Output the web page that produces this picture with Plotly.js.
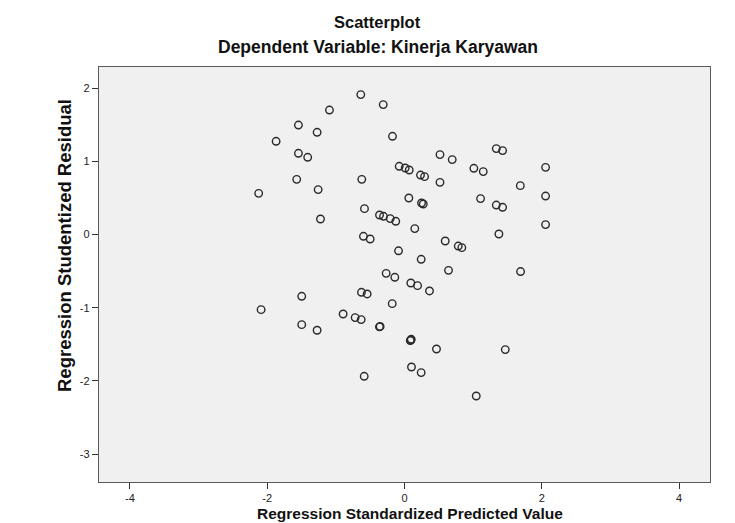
<!DOCTYPE html>
<html>
<head>
<meta charset="utf-8">
<script src="https://cdn.plot.ly/plotly-3.0.1.min.js"></script>
<style>html,body{margin:0;padding:0;background:#fff;}#chart{width:735px;height:523px;}</style>
</head>
<body>
<div id="chart"></div>
<script>
const predicted = [-0.637,-0.310,-1.093,-1.545,-1.273,-1.870,-0.175,1.337,1.429,-1.545,-1.410,0.517,0.695,-0.077,0.010,0.069,2.055,1.010,1.147,0.233,0.292,-1.570,-0.622,-1.258,0.517,1.687,-2.124,2.055,1.108,0.063,0.248,0.273,1.337,1.429,-0.583,-0.364,-0.306,-0.208,-0.127,-1.224,2.055,0.150,1.375,-0.598,-0.500,0.593,0.783,0.835,-0.087,0.243,0.641,1.691,-0.267,-0.141,0.092,0.190,0.364,-1.497,-0.627,-0.544,-0.179,-2.089,-0.894,-0.719,-0.631,-1.497,-1.273,-0.365,-0.355,0.098,0.084,0.092,0.466,1.468,0.102,0.243,-0.587,1.045];
const residual = [1.913,1.776,1.702,1.497,1.398,1.275,1.343,1.175,1.148,1.111,1.056,1.093,1.025,0.933,0.910,0.883,0.919,0.906,0.861,0.814,0.792,0.755,0.755,0.615,0.714,0.669,0.564,0.527,0.492,0.500,0.432,0.418,0.404,0.373,0.355,0.268,0.250,0.219,0.182,0.213,0.137,0.082,0.008,-0.023,-0.060,-0.087,-0.156,-0.178,-0.221,-0.337,-0.488,-0.505,-0.529,-0.583,-0.661,-0.697,-0.770,-0.843,-0.788,-0.811,-0.943,-1.025,-1.085,-1.134,-1.161,-1.230,-1.307,-1.260,-1.255,-1.430,-1.448,-1.440,-1.563,-1.571,-1.809,-1.885,-1.936,-2.205];
const xTicks = [-4,-2,0,2,4];
const yTicks = [-3,-2,-1,0,1,2];
const chartTitle = 'Scatterplot';
const chartSubtitle = 'Dependent Variable: Kinerja Karyawan';
const xTitle = 'Regression Standardized Predicted Value';
const yTitle = 'Regression Studentized Residual';

const font = 'Arial, "Liberation Sans", sans-serif';
const trace = {
  x: predicted, y: residual, type: 'scatter', mode: 'markers',
  marker: {symbol: 'circle-open', size: 7.5, color: '#2a2a2a', line: {width: 1.4, color: '#2a2a2a'}},
  hoverinfo: 'x+y'
};
const axisCommon = {
  showgrid: false, zeroline: false, showline: true, mirror: true,
  linecolor: '#5a5a5a', linewidth: 1.2, ticks: 'outside', ticklen: 6, tickwidth: 1, tickcolor: '#333',
  tickfont: {family: font, size: 11, color: '#222'}
};
const W = 735, H = 523, ML = 99, MR = 25, MT = 67, MB = 41;
const px = v => (v - ML) / (W - ML - MR);
const py = v => (H - MB - v) / (H - MT - MB);
const layout = {
  width: W, height: H,
  margin: {l: ML, r: MR, t: MT, b: MB, pad: 0},
  paper_bgcolor: '#ffffff', plot_bgcolor: '#f0f0f0',
  showlegend: false,
  xaxis: Object.assign({}, axisCommon, {range: [-4.45, 4.45], tickvals: xTicks, ticktext: xTicks.map(String)}),
  yaxis: Object.assign({}, axisCommon, {range: [-3.38, 2.29], tickvals: yTicks, ticktext: yTicks.map(String)}),
  annotations: [
    {text: chartTitle, xref: 'paper', yref: 'paper', x: px(377), y: py(22), showarrow: false,
     font: {family: font, size: 16.5, color: '#111', weight: 'bold'}, xanchor: 'center', yanchor: 'middle'},
    {text: chartSubtitle, xref: 'paper', yref: 'paper', x: px(378), y: py(47), showarrow: false,
     font: {family: font, size: 17.5, color: '#111', weight: 'bold'}, xanchor: 'center', yanchor: 'middle'},
    {text: xTitle, xref: 'paper', yref: 'paper', x: px(410), y: py(513), showarrow: false,
     font: {family: font, size: 15.5, color: '#111', weight: 'bold'}, xanchor: 'center', yanchor: 'middle'},
    {text: yTitle, xref: 'paper', yref: 'paper', x: px(64), y: py(246), showarrow: false, textangle: -90,
     font: {family: font, size: 18.5, color: '#111', weight: 'bold'}, xanchor: 'center', yanchor: 'middle'}
  ]
};
Plotly.newPlot('chart', [trace], layout, {displayModeBar: false, staticPlot: true});
</script>
</body>
</html>
